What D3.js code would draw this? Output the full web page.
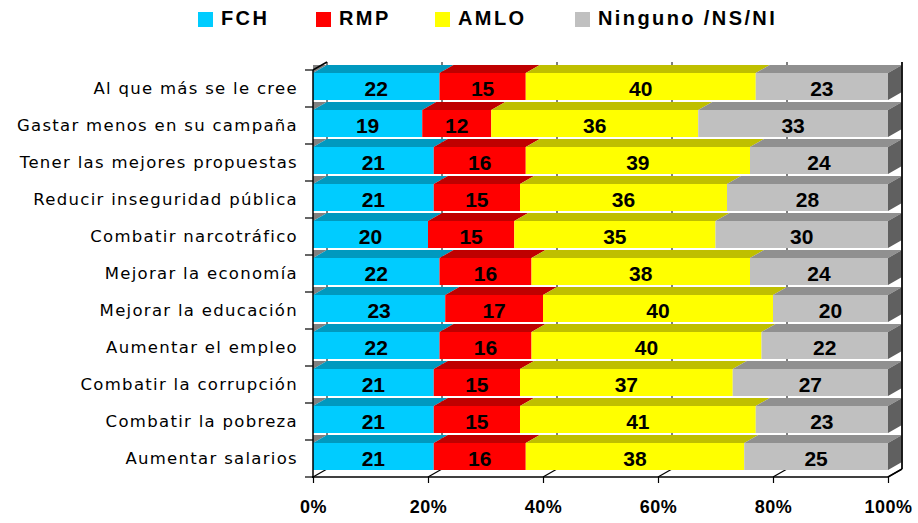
<!DOCTYPE html>
<html lang="es">
<head>
<meta charset="UTF-8">
<title>Atributos por candidato</title>
<script src="https://d3js.org/d3.v7.min.js"></script>
<style>
  body { margin: 0; background: #fff; }
  svg { display: block; }
</style>
</head>
<body>
<div id="chart"></div>
<script>
// Datos
const categories = [
  "Al que más se le cree",
  "Gastar menos en su campaña",
  "Tener las mejores propuestas",
  "Reducir inseguridad pública",
  "Combatir narcotráfico",
  "Mejorar la economía",
  "Mejorar la educación",
  "Aumentar el empleo",
  "Combatir la corrupción",
  "Combatir la pobreza",
  "Aumentar salarios"
];
const seriesNames = ["FCH", "RMP", "AMLO", "Ninguno /NS/NI"];
const fch     = [22, 19, 21, 21, 20, 22, 23, 22, 21, 21, 21];
const rmp     = [15, 12, 16, 15, 15, 16, 17, 16, 15, 15, 16];
const amlo    = [40, 36, 39, 36, 35, 38, 40, 40, 37, 41, 38];
const ninguno = [23, 33, 24, 28, 30, 24, 20, 22, 27, 23, 25];
const tickValues = [0, 20, 40, 60, 80, 100];

// couleurs : face, dessus, côté
const colors = [
  { front: "#00CCFF", top: "#0099BF", side: "#007A99" },
  { front: "#FF0000", top: "#BF0000", side: "#990000" },
  { front: "#FFFF00", top: "#BFBF00", side: "#999900" },
  { front: "#C0C0C0", top: "#909090", side: "#606060" }
];

const W = 918, H = 523;
const dx = 14, dy = -8; // profondeur 3D

const svg = d3.select("#chart").append("svg")
  .attr("width", W).attr("height", H);

const x = d3.scaleLinear().domain([0, 100]).range([313, 888]);
const y = d3.scaleBand().domain(categories).range([70, 477]);
const barTop = 3, barH = 27;
const y0 = 70, y1 = 477;

const rows = categories.map((c, i) => {
  const vals = [fch[i], rmp[i], amlo[i], ninguno[i]];
  let acc = 0;
  return { cat: c, segs: vals.map((v, k) => { const s = { k, v, a: acc, b: acc + v }; acc += v; return s; }) };
});

const pts = arr => arr.map(p => p.join(",")).join(" ");

// grille du fond
svg.selectAll(".grid").data(tickValues).enter().append("line")
  .attr("x1", d => x(d) + dx).attr("x2", d => x(d) + dx)
  .attr("y1", y0 + dy).attr("y2", y1 + dy)
  .attr("stroke", "#000").attr("stroke-width", 1);

// grille du sol
svg.selectAll(".floor").data(tickValues).enter().append("line")
  .attr("x1", d => x(d)).attr("x2", d => x(d) + dx)
  .attr("y1", y1).attr("y2", y1 + dy)
  .attr("stroke", "#000").attr("stroke-width", 1.2);

// barres
rows.forEach(r => {
  const ft = y(r.cat) + barTop, fb = ft + barH;
  const g = svg.append("g");
  // coin du mur gauche (gris)
  g.append("polygon")
    .attr("points", pts([[x(0), ft], [x(0) + dx, ft + dy], [x(0), ft + dy]]))
    .attr("fill", "#808080");
  r.segs.forEach(s => {
    const xa = x(s.a), xb = x(s.b), c = colors[s.k];
    g.append("polygon")
      .attr("points", pts([[xa, ft], [xa + dx, ft + dy], [xb + dx, ft + dy], [xb, ft]]))
      .attr("fill", c.top);
    g.append("rect")
      .attr("x", xa).attr("y", ft).attr("width", xb - xa).attr("height", barH)
      .attr("fill", c.front);
  });
  const last = r.segs[r.segs.length - 1];
  const xe = x(last.b);
  g.append("polygon")
    .attr("points", pts([[xe, ft], [xe + dx, ft + dy], [xe + dx, fb + dy], [xe, fb]]))
    .attr("fill", colors[last.k].side);
  r.segs.forEach(s => {
    g.append("text")
      .attr("x", (x(s.a) + x(s.b)) / 2)
      .attr("y", ft + barH / 2 + 4)
      .attr("text-anchor", "middle")
      .attr("dominant-baseline", "middle")
      .attr("font-family", "Liberation Sans, Arial, sans-serif")
      .attr("font-weight", "bold")
      .attr("font-size", 21)
      .attr("fill", "#000")
      .text(s.v);
  });
});

// axes
const axisColor = "#000";
svg.append("line").attr("x1", x(0)).attr("x2", x(0)).attr("y1", y0).attr("y2", y1 + 1)
  .attr("stroke", axisColor).attr("stroke-width", 1.5);
svg.append("line").attr("x1", x(0)).attr("x2", x(0) + dx).attr("y1", y0).attr("y2", y0 + dy)
  .attr("stroke", axisColor).attr("stroke-width", 1.5);
svg.append("line").attr("x1", x(100) + dx).attr("x2", x(100) + dx).attr("y1", y0 + dy).attr("y2", y1 + dy)
  .attr("stroke", axisColor).attr("stroke-width", 1.5);
svg.append("line").attr("x1", x(0) - 1).attr("x2", x(100)).attr("y1", y1).attr("y2", y1)
  .attr("stroke", axisColor).attr("stroke-width", 1.5);
svg.append("line").attr("x1", x(100)).attr("x2", x(100) + dx).attr("y1", y1).attr("y2", y1 + dy)
  .attr("stroke", axisColor).attr("stroke-width", 1.5);

// marques gauche (limites des catégories)
const bounds = categories.map(c => y(c)).concat([y1]);
svg.selectAll(".ltick").data(bounds).enter().append("line")
  .attr("x1", x(0) - 8).attr("x2", x(0)).attr("y1", d => d).attr("y2", d => d)
  .attr("stroke", axisColor).attr("stroke-width", 1.2);

// axe du bas
const xAxis = svg.append("g")
  .attr("transform", `translate(0,${y1})`)
  .call(d3.axisBottom(x).tickValues(tickValues).tickSize(6).tickSizeOuter(0).tickFormat(d => d + "%"));
xAxis.select(".domain").remove();
xAxis.selectAll("line").attr("stroke", axisColor).attr("stroke-width", 1.2);
xAxis.selectAll("text")
  .attr("y", 23)
  .attr("font-family", "Liberation Sans, Arial, sans-serif")
  .attr("font-weight", "bold")
  .attr("font-size", 18)
  .attr("letter-spacing", 0.5)
  .attr("fill", "#000");

// libellés des catégories
svg.selectAll(".cat").data(categories).enter().append("text")
  .attr("x", 298)
  .attr("y", d => y(d) + barTop + barH / 2 + 3)
  .attr("text-anchor", "end")
  .attr("dominant-baseline", "middle")
  .attr("font-family", "DejaVu Sans, sans-serif")
  .attr("font-size", 16.5)
  .attr("letter-spacing", 1.3)
  .attr("fill", "#000")
  .text(d => d);

// légende
const legendX = [198, 316, 435, 575];
const legend = svg.selectAll(".leg").data(seriesNames).enter().append("g")
  .attr("transform", (d, i) => `translate(${legendX[i]},12)`);
legend.append("rect").attr("width", 15).attr("height", 15)
  .attr("fill", (d, i) => colors[i].front);
legend.append("text")
  .attr("x", 23).attr("y", 8)
  .attr("dominant-baseline", "middle")
  .attr("font-family", "Liberation Sans, Arial, sans-serif")
  .attr("font-weight", "bold")
  .attr("font-size", 20)
  .attr("letter-spacing", 2.4)
  .attr("fill", "#000")
  .text(d => d);
</script>
</body>
</html>
